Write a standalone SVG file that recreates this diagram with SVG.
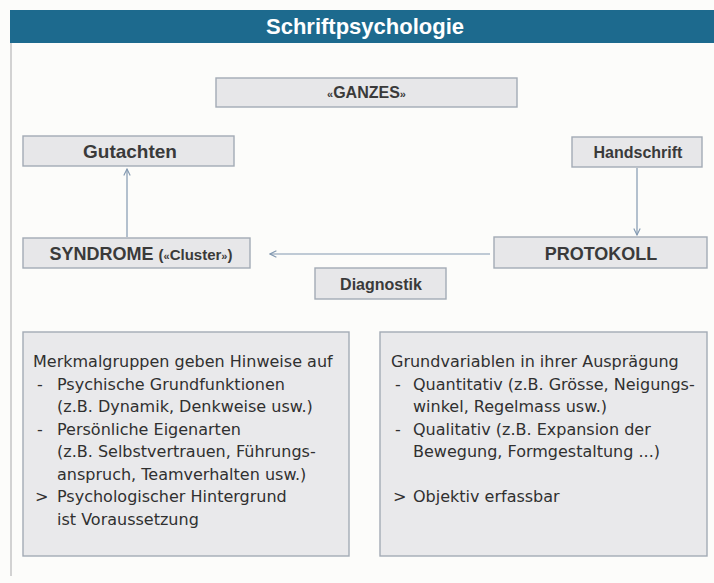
<svg xmlns="http://www.w3.org/2000/svg" width="714" height="583" viewBox="0 0 714 583">
  <style>
    .nb { fill: #e7e7e9; stroke: #a3abb5; stroke-width: 1.4; }
    .bb { fill: #e9e9eb; stroke: #a3abb5; stroke-width: 1.4; }
    .nl { font-family: "Liberation Sans", Arial, sans-serif; font-weight: bold; fill: #3a3a3a; text-anchor: middle; }
    .bt { font-family: "DejaVu Sans", sans-serif; font-size: 16px; fill: #303030; }
    .conn { stroke: #8298b0; stroke-width: 1.2; fill: none; }
  </style>
  <defs>
    <marker id="arr" viewBox="0 0 10 10" refX="9" refY="5" markerWidth="8" markerHeight="8" orient="auto" markerUnits="userSpaceOnUse">
      <path d="M1,1 L9,5 L1,9" fill="none" stroke="#8298b0" stroke-width="1.4"/>
    </marker>
  </defs>
  <rect x="0" y="0" width="714" height="583" fill="#fcfcfa"/>
  <line x1="11" y1="43" x2="11" y2="576" stroke="#c4c4c4" stroke-width="1.5"/>
  <g id="header">
    <rect x="10" y="10" width="704" height="33" fill="#1d6a8e"/>
    <text x="365" y="34" font-family="Liberation Sans, Arial, sans-serif" font-weight="bold" font-size="22" fill="#ffffff" text-anchor="middle">Schriftpsychologie</text>
  </g>
  <g id="ganzes">
    <rect class="nb" x="216" y="78" width="301" height="29"/>
    <text class="nl" x="366.5" y="98" font-size="16"><tspan font-size="11">«</tspan>GANZES<tspan font-size="11">»</tspan></text>
  </g>
  <g id="gutachten">
    <rect class="nb" x="23" y="136" width="211" height="30"/>
    <text class="nl" x="130" y="158" font-size="19">Gutachten</text>
  </g>
  <g id="handschrift">
    <rect class="nb" x="572" y="137" width="130" height="30"/>
    <text class="nl" x="638" y="158" font-size="16">Handschrift</text>
  </g>
  <g id="syndrome">
    <rect class="nb" x="23" y="238" width="227" height="30"/>
    <text class="nl" x="141" y="260" font-size="18">SYNDROME <tspan font-size="15">(<tspan font-size="11">«</tspan>Cluster<tspan font-size="11">»</tspan>)</tspan></text>
  </g>
  <g id="protokoll">
    <rect class="nb" x="494" y="237" width="213" height="31"/>
    <text class="nl" x="601" y="259.5" font-size="18">PROTOKOLL</text>
  </g>
  <g id="diagnostik">
    <rect class="nb" x="315" y="268" width="131" height="31"/>
    <text class="nl" x="381" y="289.5" font-size="16">Diagnostik</text>
  </g>
  <g id="connectors">
    <line class="conn" x1="127" y1="237" x2="127" y2="169" marker-end="url(#arr)"/>
    <line class="conn" x1="637" y1="168" x2="637" y2="235" marker-end="url(#arr)"/>
    <line class="conn" x1="490" y1="254" x2="270" y2="254" marker-end="url(#arr)"/>
  </g>
  <g id="merkmal">
    <rect class="bb" x="23" y="332" width="326" height="224"/>
    <text class="bt">
      <tspan x="33" y="367">Merkmalgruppen geben Hinweise auf</tspan>
      <tspan x="37" y="389.5">-</tspan><tspan x="57" y="389.5">Psychische Grundfunktionen</tspan>
      <tspan x="57" y="412">(z.B. Dynamik, Denkweise usw.)</tspan>
      <tspan x="37" y="434.5">-</tspan><tspan x="57" y="434.5">Persönliche Eigenarten</tspan>
      <tspan x="57" y="457">(z.B. Selbstvertrauen, Führungs-</tspan>
      <tspan x="57" y="479.5">anspruch, Teamverhalten usw.)</tspan>
      <tspan x="35" y="502">&gt;</tspan><tspan x="57" y="502">Psychologischer Hintergrund</tspan>
      <tspan x="57" y="524.5">ist Voraussetzung</tspan>
    </text>
  </g>
  <g id="grundvariablen">
    <rect class="bb" x="380" y="332" width="327" height="224"/>
    <text class="bt">
      <tspan x="391" y="367">Grundvariablen in ihrer Ausprägung</tspan>
      <tspan x="395" y="389.5">-</tspan><tspan x="413" y="389.5">Quantitativ (z.B. Grösse, Neigungs-</tspan>
      <tspan x="413" y="412">winkel, Regelmass usw.)</tspan>
      <tspan x="395" y="434.5">-</tspan><tspan x="413" y="434.5">Qualitativ (z.B. Expansion der</tspan>
      <tspan x="413" y="457">Bewegung, Formgestaltung ...)</tspan>
      <tspan x="393" y="502">&gt;</tspan><tspan x="413" y="502">Objektiv erfassbar</tspan>
    </text>
  </g>
</svg>
